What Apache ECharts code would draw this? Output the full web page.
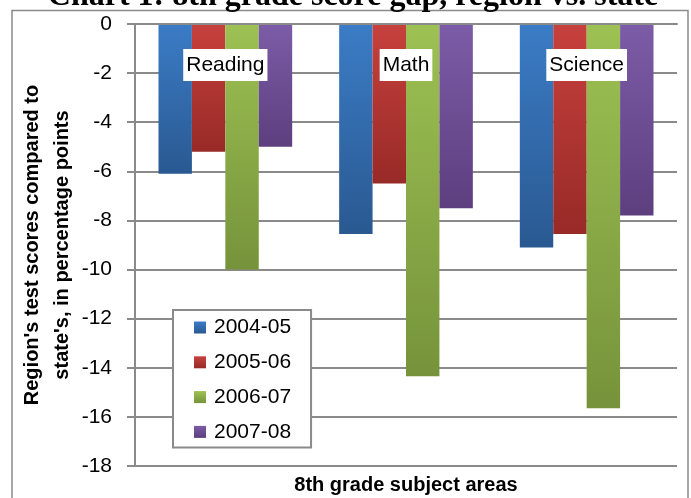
<!DOCTYPE html>
<html>
<head>
<meta charset="utf-8">
<script src="https://cdn.jsdelivr.net/npm/echarts@6/dist/echarts.min.js"></script>
<style>html,body{margin:0;padding:0;background:#fff;}#c{width:691px;height:498px;}</style>
</head>
<body>
<div id="c"></div>
<script>
const categories = ['Reading', 'Math', 'Science'];
const seriesNames = ['2004-05', '2005-06', '2006-07', '2007-08'];
const s2004_05 = [-6.1, -8.55, -9.1];
const s2005_06 = [-5.2, -6.5, -8.55];
const s2006_07 = [-10.0, -14.35, -15.65];
const s2007_08 = [-5.0, -7.5, -7.8];
const yMin = -18, yMax = 0, yStep = 2;

const seriesData = [s2004_05, s2005_06, s2006_07, s2007_08];
const colorStops = [
  ['#3b7cc6', '#2a5991'],
  ['#c7413d', '#982a27'],
  ['#9dc153', '#76933b'],
  ['#7c5ca7', '#5d3f7f']
];
const SANS = '"Liberation Sans", Arial, sans-serif';

const chart = echarts.init(document.getElementById('c'), null, {renderer: 'canvas'});
chart.setOption({
  animation: false,
  backgroundColor: '#fff',
  grid: {left: 135, right: 14, top: 24, bottom: 32, containLabel: false},
  graphic: [
    {type: 'rect', z: 0, shape: {x: 12, y: 10.5, width: 676, height: 520},
     style: {fill: 'none', stroke: '#8a8a8a', lineWidth: 1.5}},
    {type: 'text', z: 10, x: 353, y: -3,
     style: {text: 'Chart 1: 8th grade score gap, region vs. state', fill: '#000',
       font: 'bold 32px "Liberation Serif", "Times New Roman", serif',
       textAlign: 'center', textVerticalAlign: 'middle'}},
    {type: 'text', z: 10, x: 406, y: 485,
     style: {text: '8th grade subject areas', fill: '#000',
       font: 'bold 20px ' + SANS, textAlign: 'center', textVerticalAlign: 'middle'}}
  ],
  legend: {
    orient: 'vertical', left: 173, top: 310,
    data: seriesNames,
    icon: 'rect', itemWidth: 12, itemHeight: 12, itemGap: 13.8,
    padding: [7, 20, 5, 21],
    backgroundColor: '#fff', borderColor: '#8a8a8a', borderWidth: 2,
    textStyle: {fontFamily: SANS, fontSize: 21, lineHeight: 21, color: '#000', padding: [0, 0, 0, 3]},
    z: 20
  },
  xAxis: {
    type: 'category', data: categories, position: 'top',
    axisLine: {show: true, lineStyle: {color: '#8a8a8a', width: 2}},
    axisTick: {show: false},
    axisLabel: {inside: true, margin: 25, fontFamily: SANS, fontSize: 21, color: '#000',
      backgroundColor: '#fff', padding: [5, 3, 5, 3], lineHeight: 22},
    z: 15
  },
  yAxis: {
    type: 'value', min: yMin, max: yMax, interval: yStep,
    name: "Region's test scores compared to\nstate's, in percentage points",
    nameLocation: 'middle', nameGap: 58, nameRotate: 90, nameMoveOverlap: false,
    nameTextStyle: {fontFamily: SANS, fontSize: 20, fontWeight: 'bold', color: '#000', lineHeight: 30},
    axisLine: {show: true, lineStyle: {color: '#8a8a8a', width: 2}},
    axisTick: {show: true, length: 8, lineStyle: {color: '#8a8a8a', width: 2}},
    axisLabel: {margin: 23, fontFamily: SANS, fontSize: 21, color: '#000'},
    splitLine: {show: true, lineStyle: {color: '#8a8a8a', width: 2}}
  },
  series: seriesNames.map((n, i) => ({
    name: n, type: 'bar', data: seriesData[i],
    barGap: '0%', barCategoryGap: '26%',
    itemStyle: {color: new echarts.graphic.LinearGradient(0, 0, 0, 1, [
      {offset: 0, color: colorStops[i][0]}, {offset: 1, color: colorStops[i][1]}])},
    z: 5
  }))
});
</script>
</body>
</html>
